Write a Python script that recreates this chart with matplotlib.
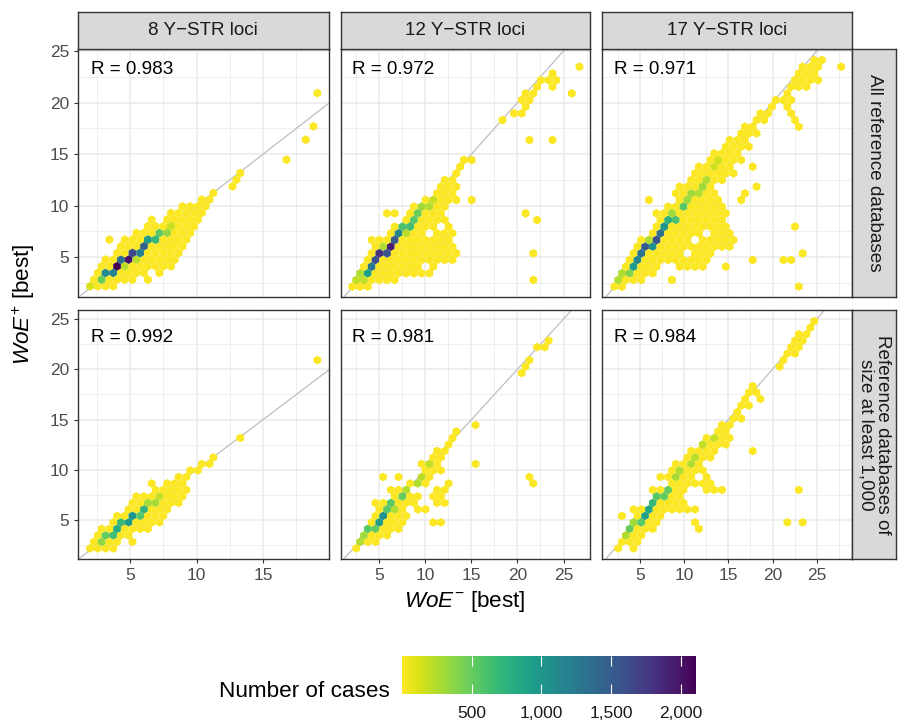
import numpy as np
import matplotlib
matplotlib.use('Agg')
import matplotlib.pyplot as plt
from matplotlib.colors import Normalize
from matplotlib.ticker import MultipleLocator

plt.rcParams['font.family'] = ['Liberation Sans', 'DejaVu Sans']
plt.rcParams['mathtext.fontset'] = 'custom'
plt.rcParams['mathtext.rm'] = 'Liberation Sans'
plt.rcParams['mathtext.it'] = 'Liberation Sans:italic'

loci = ['8 Y\u2212STR loci', '12 Y\u2212STR loci', '17 Y\u2212STR loci']
ref_sets = ['All reference databases', 'Reference databases of\nsize at least 1,000']
r_values = [[0.983, 0.972, 0.971], [0.992, 0.981, 0.984]]

# hexagon bins per loci set: WoE- of column 0, bin width; WoE+ of row 0, row step
bin_x0 = [2.0, 2.07, 2.1]
bin_dx = [0.5786, 0.836, 0.87]
bin_y0 = [[2.18, 2.15, 2.15], [2.18, 1.534, 1.534]]
bin_dy = 0.646

few_cases = 10   # the plain yellow hexagons

# occupied hexagons: row -> column spans (inclusive)
occ_8_all = {0: [(0, 3)], 1: [(0, 5), (7, 7)], 2: [(1, 7), (9, 9)], 3: [(1, 10)],
             4: [(2, 11)], 5: [(3, 11)], 6: [(4, 12)], 7: [(2, 2), (4, 12)],
             8: [(6, 13)], 9: [(7, 13)], 10: [(8, 8), (10, 14)], 11: [(10, 14)],
             12: [(12, 15)], 13: [(14, 15)], 14: [(16, 16)], 15: [(18, 18)],
             16: [(19, 19)], 17: [(19, 19)], 19: [(25, 25)], 22: [(28, 28)],
             24: [(29, 29)], 29: [(29, 29)]}
occ_12_all = {0: [(0, 2)], 1: [(0, 5), (23, 23)], 2: [(1, 10)], 3: [(1, 8), (10, 10)],
              4: [(2, 13)], 5: [(2, 13), (23, 23)], 6: [(3, 13)], 7: [(2, 12)],
              8: [(5, 9), (11, 13)], 9: [(5, 10), (12, 12)], 10: [(7, 12), (24, 24)],
              11: [(4, 5), (7, 11), (22, 22)], 12: [(8, 12)], 13: [(9, 13), (15, 15)],
              14: [(11, 13)], 15: [(11, 13)], 16: [(12, 13)], 17: [(13, 13)],
              18: [(14, 14)], 19: [(14, 15)], 22: [(23, 23), (26, 26)], 25: [(19, 19)],
              26: [(21, 22)], 27: [(22, 22)], 28: [(22, 23)], 29: [(22, 23), (28, 28)],
              30: [(24, 24), (26, 26)], 31: [(24, 26)], 32: [(26, 26)], 33: [(29, 29)]}
occ_17_all = {0: [(0, 1), (24, 24)], 1: [(0, 3), (7, 7)], 2: [(1, 5)],
              3: [(1, 5), (8, 11), (14, 14)], 4: [(2, 12), (18, 18), (22, 23)],
              5: [(2, 8), (10, 12), (24, 24)], 6: [(3, 15)], 7: [(3, 9), (11, 15)],
              8: [(5, 11), (13, 15)], 9: [(5, 14), (23, 23)], 10: [(6, 14)],
              11: [(5, 14)], 12: [(7, 14)], 13: [(4, 4), (8, 13), (16, 16)],
              14: [(8, 13), (17, 17)], 15: [(8, 12), (18, 18)], 16: [(10, 14)],
              17: [(10, 15)], 18: [(11, 15), (18, 18)], 19: [(12, 16)], 20: [(13, 16)],
              21: [(14, 17)], 22: [(15, 17)], 23: [(16, 18)], 24: [(17, 18), (24, 24)],
              25: [(18, 19), (23, 23)], 26: [(19, 20), (23, 23)], 27: [(20, 20), (22, 22)],
              28: [(21, 23)], 29: [(22, 22)], 30: [(23, 25)], 31: [(23, 26)],
              32: [(24, 26)], 33: [(24, 26), (29, 29)], 34: [(26, 27)]}
occ_8_big = {0: [(0, 3)], 1: [(0, 3), (5, 5)], 2: [(1, 5)], 3: [(1, 7)], 4: [(3, 9)],
             5: [(3, 9)], 6: [(5, 10)], 7: [(5, 11)], 8: [(6, 12)], 9: [(8, 12)],
             10: [(8, 8), (10, 12)], 11: [(11, 12)], 12: [(13, 14)], 13: [(14, 15)],
             14: [(16, 16)], 17: [(19, 19)], 29: [(29, 29)]}
occ_12_big = {1: [(0, 0)], 2: [(1, 3)], 3: [(1, 4)], 4: [(2, 6)], 5: [(2, 6), (10, 11)],
              6: [(3, 7)], 7: [(3, 6), (8, 9)], 8: [(3, 8), (11, 12)],
              9: [(5, 8), (10, 11)], 10: [(5, 7), (11, 12)],
              11: [(7, 9), (12, 12), (23, 23)], 12: [(4, 4), (6, 6), (9, 10), (23, 23)],
              13: [(9, 11)], 14: [(9, 11), (16, 16)], 15: [(10, 11)], 16: [(11, 12)],
              17: [(12, 12)], 18: [(13, 13)], 19: [(13, 13)], 20: [(16, 16)],
              28: [(22, 22)], 29: [(22, 22)], 30: [(23, 23)], 32: [(24, 25)], 33: [(25, 25)]}
occ_17_big = {1: [(0, 0), (2, 2)], 2: [(1, 3)], 3: [(1, 3)], 4: [(2, 5), (11, 11)],
              5: [(2, 5), (10, 10), (22, 22), (24, 24)], 6: [(1, 1), (3, 6)],
              7: [(2, 10)], 8: [(5, 9)], 9: [(5, 8)], 10: [(5, 9), (12, 14), (24, 24)],
              11: [(7, 12)], 12: [(6, 10), (12, 12)], 13: [(7, 11)], 14: [(8, 11)],
              15: [(9, 12)], 16: [(10, 13), (18, 18)], 17: [(11, 14)], 18: [(12, 15)],
              19: [(13, 14)], 20: [(14, 15)], 21: [(15, 16)], 22: [(16, 16)],
              23: [(16, 17)], 24: [(17, 17), (19, 19)], 25: [(17, 18)], 26: [(18, 18)],
              29: [(21, 21)], 30: [(22, 22)], 31: [(22, 23)], 32: [(23, 24)],
              33: [(23, 24)], 34: [(24, 25)], 35: [(25, 25)], 36: [(26, 26)]}

# number of cases in the fuller hexagons: (row, column) -> count
dark_8_all = {(0, 0): 120, (1, 1): 480, (2, 2): 1100, (2, 3): 1150, (3, 3): 2108,
              (3, 4): 220, (4, 4): 1350, (4, 5): 2000, (4, 6): 220, (5, 5): 1650,
              (5, 6): 1200, (6, 7): 1450, (7, 7): 950, (7, 8): 700, (8, 9): 530,
              (8, 10): 330, (9, 10): 180}
dark_12_all = {(1, 0): 200, (1, 1): 200, (2, 1): 250, (2, 2): 900, (3, 2): 1250,
               (4, 3): 1580, (5, 3): 1800, (5, 4): 1550, (6, 4): 250, (6, 5): 1950,
               (7, 5): 1500, (8, 6): 1150, (8, 7): 220, (9, 6): 600, (9, 7): 650,
               (10, 8): 550, (11, 8): 480, (12, 9): 300, (12, 10): 250, (13, 10): 180}
dark_17_all = {(1, 0): 250, (2, 1): 250, (2, 2): 400, (3, 2): 950, (4, 3): 1150,
               (5, 3): 1300, (6, 4): 1500, (6, 5): 1050, (7, 4): 250, (7, 5): 1550,
               (8, 6): 1350, (9, 6): 1000, (10, 7): 750, (10, 8): 600, (11, 7): 300,
               (12, 9): 550, (13, 9): 300, (14, 10): 300, (14, 11): 250, (15, 11): 300,
               (16, 12): 250, (18, 13): 150, (19, 13): 150}
dark_8_big = {(1, 1): 350, (2, 2): 500, (2, 3): 650, (3, 3): 800, (4, 4): 700,
              (4, 5): 950, (5, 5): 1000, (5, 6): 550, (6, 7): 750, (7, 7): 280,
              (7, 8): 280, (8, 9): 200}
dark_12_big = {(2, 1): 250, (3, 1): 300, (4, 2): 550, (4, 3): 500, (5, 3): 950,
               (6, 4): 1050, (7, 4): 550, (7, 5): 250, (8, 5): 550, (9, 6): 500,
               (10, 7): 250, (11, 8): 250, (12, 9): 220, (14, 10): 200}
dark_17_big = {(3, 1): 250, (4, 2): 500, (5, 2): 300, (5, 3): 550, (6, 4): 900,
               (7, 4): 850, (8, 5): 700, (9, 5): 550, (9, 6): 500, (10, 7): 500,
               (12, 8): 280, (13, 8): 250, (14, 10): 250, (15, 10): 220,
               (17, 11): 200, (18, 13): 180}

panels = [[(occ_8_all, dark_8_all), (occ_12_all, dark_12_all), (occ_17_all, dark_17_all)],
          [(occ_8_big, dark_8_big), (occ_12_big, dark_12_big), (occ_17_big, dark_17_big)]]

xlims = [(1.09, 19.91), (0.80, 27.9), (0.74, 29.03)]
ylims = [(1.17, 25.22), (1.09, 25.9)]

W, H = 901, 722
fig = plt.figure(figsize=(W / 100, H / 100), dpi=100)


def box(x0, y0, x1, y1):
    return [x0 / W, 1 - y1 / H, (x1 - x0) / W, (y1 - y0) / H]


col_x = [(78, 328.5), (340.7, 590.2), (602.3, 852.3)]
row_y = [(48.7, 296.7), (310, 559.3)]
strip_top = (12, 48.7)
strip_right = (852.3, 896)

norm = Normalize(1, 2108)
border = '#333333'

for r in range(2):
    for c in range(3):
        ax = fig.add_axes(box(col_x[c][0], row_y[r][0], col_x[c][1], row_y[r][1]))
        occ, dark = panels[r][c]
        cells = {}
        for row, spans in occ.items():
            for a, b in spans:
                for col in range(a, b + 1):
                    cells[(row, col)] = few_cases
        cells.update(dark)
        keys = list(cells)
        rows = np.array([k[0] for k in keys])
        cols = np.array([k[1] for k in keys])
        n = np.array([cells[k] for k in keys], dtype=float)
        x0, dx, y0 = bin_x0[c], bin_dx[c], bin_y0[r][c]
        woe_minus = x0 + (cols + 0.5 * (rows % 2)) * dx
        woe_plus = y0 + rows * bin_dy
        hb = ax.hexbin(woe_minus, woe_plus, C=n, reduce_C_function=np.sum,
                       gridsize=(32, 19), extent=(x0, x0 + 32 * dx, y0, y0 + 38 * bin_dy),
                       cmap='viridis_r', norm=norm, linewidths=0, zorder=2)
        ax.axline((0, 0), (1, 1), color='#BEBEBE', lw=0.9, zorder=1.5)
        ax.set_xlim(*xlims[c])
        ax.set_ylim(*ylims[r])
        for axis in (ax.xaxis, ax.yaxis):
            axis.set_major_locator(MultipleLocator(5))
            axis.set_minor_locator(MultipleLocator(2.5))
        ax.set_axisbelow(True)
        ax.grid(which='major', color='#EBEBEB', lw=1.1)
        ax.grid(which='minor', color='#EBEBEB', lw=0.55)
        for sp in ax.spines.values():
            sp.set_color(border)
            sp.set_linewidth(1.0)
            sp.set_zorder(3)
        ax.tick_params(which='minor', length=0)
        ax.tick_params(which='major', length=2.75, width=0.8, color=border,
                       labelsize=12.5, labelcolor='#4D4D4D', pad=3.5)
        if r == 0:
            ax.tick_params(axis='x', length=0, labelbottom=False)
        if c > 0:
            ax.tick_params(axis='y', length=0, labelleft=False)
        ax.text(2.08, 23.2, f'R = {r_values[r][c]:.3f}', ha='left', va='center',
                size=13.6, color='black', zorder=4)

for c in range(3):
    sa = fig.add_axes(box(col_x[c][0], strip_top[0], col_x[c][1], strip_top[1]))
    sa.set_facecolor('#D9D9D9')
    sa.set_xticks([])
    sa.set_yticks([])
    for sp in sa.spines.values():
        sp.set_color(border)
        sp.set_linewidth(1.0)
    sa.text(0.5, 0.5, loci[c], ha='center', va='center', size=13.6, color='#1A1A1A',
            transform=sa.transAxes)

for r in range(2):
    sa = fig.add_axes(box(strip_right[0], row_y[r][0], strip_right[1], row_y[r][1]))
    sa.set_facecolor('#D9D9D9')
    sa.set_xticks([])
    sa.set_yticks([])
    for sp in sa.spines.values():
        sp.set_color(border)
        sp.set_linewidth(1.0)
    sa.text(0.5, 0.5, ref_sets[r], ha='center', va='center', rotation=-90, size=13.6,
            color='#1A1A1A', linespacing=0.95, transform=sa.transAxes)

fig.text(24 / W, 1 - 304 / H, r'$\mathit{WoE}^{+}$ [best]', rotation=90,
         ha='center', va='center', size=16.2)
fig.text(465 / W, 1 - 602 / H, r'$\mathit{WoE}^{-}$ [best]',
         ha='center', va='center', size=16.2)

cax = fig.add_axes(box(402.3, 656, 695.7, 694))
cb = fig.colorbar(hb, cax=cax, orientation='horizontal')
cb.outline.set_visible(False)
cb.set_ticks([500, 1000, 1500, 2000], labels=['500', '1,000', '1,500', '2,000'])
cax.tick_params(axis='x', direction='in', color='white', length=7, width=0.8,
                top=True, bottom=True, labelsize=12.5, labelcolor='#1A1A1A', pad=9)
fig.text(390 / W, 1 - 696.7 / H, 'Number of cases', ha='right', va='baseline', size=16.2)

fig.savefig('out.png', dpi=100)
